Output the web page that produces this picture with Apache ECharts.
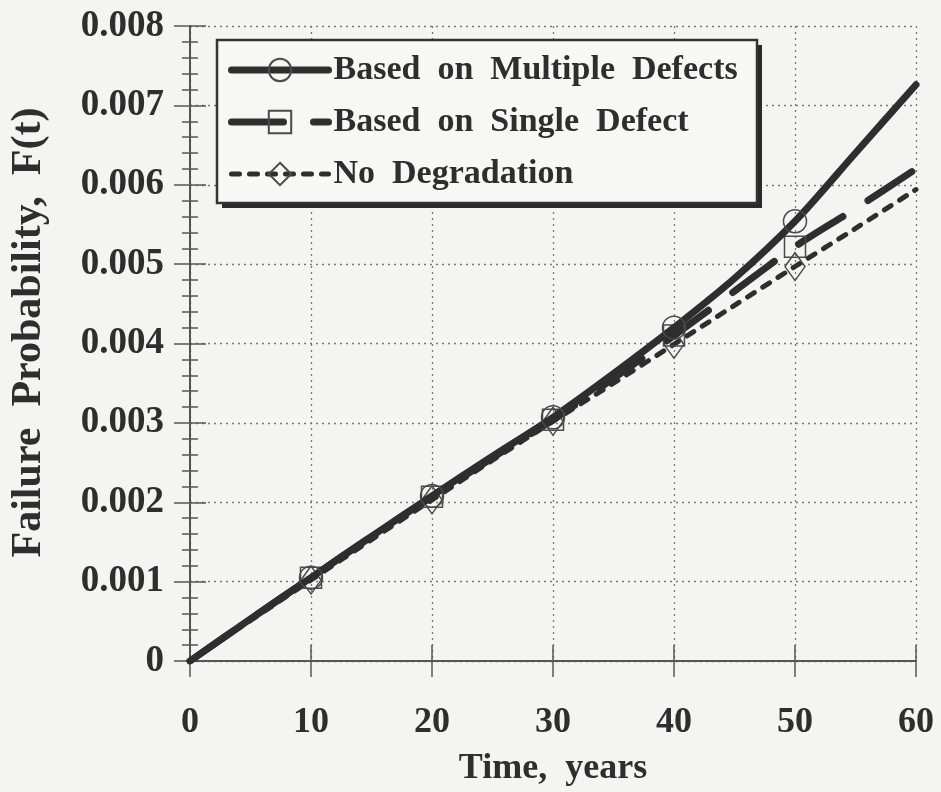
<!DOCTYPE html>
<html>
<head>
<meta charset="utf-8">
<script src="https://cdn.jsdelivr.net/npm/echarts@6/dist/echarts.min.js"></script>
<style>
  html, body { margin: 0; padding: 0; background: #f4f4f2; }
  #chart { width: 941px; height: 792px; }
</style>
</head>
<body>
<div id="chart"></div>
<script>
// Time axis (years) and failure probability curves
const years = [0, 5, 10, 15, 20, 25, 30, 35, 40, 45, 50, 55, 60];
const multipleDefects = [0, 0.00053, 0.00105, 0.00157, 0.00208, 0.00258, 0.00307, 0.00362, 0.0042, 0.00482, 0.00554, 0.0064, 0.00726];
const singleDefect    = [0, 0.00053, 0.00105, 0.00157, 0.00207, 0.00256, 0.00304, 0.00356, 0.0041, 0.00466, 0.00522, 0.0057, 0.0062];
const noDegradation   = [0, 0.00051, 0.00102, 0.00153, 0.00203, 0.00253, 0.00302, 0.0035, 0.00399, 0.00448, 0.00497, 0.00545, 0.00594];
const markerYears = [10, 20, 30, 40, 50];

const seriesNames = ['Based on Multiple Defects', 'Based on Single Defect', 'No Degradation'];
const xTicks = { min: 0, max: 60, interval: 10 };
const yTicks = { min: 0, max: 0.008, interval: 0.001 };
const xName = 'Time, years';
const yName = 'Failure Probability, F(t)';

const ink = '#2e2e2e';
const axisInk = '#555';
const font = 'Liberation Serif';
const wide = s => s.replace(/ /g, '\u2002');

const pairs = vals => years.map((y, i) => [y, vals[i]]);
const markSize = size => v => markerYears.indexOf(v[0]) >= 0 ? size : 0;

const axisLine = { show: true, lineStyle: { color: axisInk, width: 1.5 } };
const tickStyle = { color: axisInk, width: 1.5 };

function xAxisOf(position, inside, extra) {
  return Object.assign({
    type: 'value', position: position,
    min: xTicks.min, max: xTicks.max, interval: xTicks.interval,
    axisLine: axisLine,
    axisTick: { show: true, inside: inside, length: 16, lineStyle: tickStyle },
    axisLabel: { show: false },
    splitLine: { show: false }
  }, extra || {});
}
function yAxisOf(position, inside, extra) {
  return Object.assign({
    type: 'value', position: position,
    min: yTicks.min, max: yTicks.max, interval: yTicks.interval,
    axisLine: axisLine,
    axisTick: { show: true, inside: inside, length: 16, lineStyle: tickStyle },
    minorTick: { show: inside, splitNumber: 5, length: 8, lineStyle: tickStyle },
    axisLabel: { show: false },
    splitLine: { show: false }
  }, extra || {});
}

const labelText = { fontFamily: font, fontWeight: 'bold', fontSize: 37, color: ink };
const gridDots = { show: true, lineStyle: { type: [2, 4], color: '#7a7a7a', width: 1.3 } };

// legend frame with a solid drop shadow
const legendBox = { x: 217, y: 40, w: 540, h: 163, shadow: 5 };

const chart = echarts.init(document.getElementById('chart'));
chart.setOption({
  backgroundColor: '#f4f4f2',
  animation: false,
  grid: { left: 186, right: 25, top: 26, bottom: 129 },
  graphic: [
    {
      type: 'rect', z: 50, silent: true,
      shape: { x: legendBox.x + legendBox.shadow, y: legendBox.y + legendBox.shadow, width: legendBox.w, height: legendBox.h },
      style: { fill: '#2a2a2a' }
    },
    {
      type: 'rect', z: 51, silent: true,
      shape: { x: legendBox.x, y: legendBox.y, width: legendBox.w, height: legendBox.h },
      style: { fill: '#f7f7f5', stroke: '#333', lineWidth: 2.5 }
    }
  ],
  xAxis: [
    xAxisOf('bottom', true, {
      axisLabel: Object.assign({ show: true, margin: 44 }, labelText, { fontSize: 36 }),
      splitLine: gridDots,
      name: wide(xName), nameLocation: 'middle', nameGap: 90,
      nameTextStyle: Object.assign({}, labelText, { fontSize: 36 })
    }),
    xAxisOf('bottom', false),
    xAxisOf('top', true),
    xAxisOf('top', false)
  ],
  yAxis: [
    yAxisOf('left', true, {
      axisLabel: Object.assign({
        show: true, margin: 26,
        formatter: v => v === 0 ? '0' : v.toFixed(3)
      }, labelText),
      splitLine: gridDots,
      name: wide(yName), nameLocation: 'middle', nameGap: 140,
      nameTextStyle: Object.assign({}, labelText, { fontSize: 42, padding: [0, 0, 0, 22] })
    }),
    yAxisOf('left', false),
    yAxisOf('right', true),
    yAxisOf('right', false)
  ],
  legend: {
    left: legendBox.x, top: legendBox.y,
    orient: 'vertical',
    padding: [11, 20, 8, 11],
    itemWidth: 97, itemHeight: 28, itemGap: 14,
    z: 60,
    textStyle: { fontFamily: font, fontWeight: 'bold', fontSize: 34, lineHeight: 38, color: ink },
    formatter: name => wide(name),
    data: [
      { name: seriesNames[0], lineStyle: { width: 7 } },
      { name: seriesNames[1], lineStyle: { width: 7 } },
      { name: seriesNames[2], lineStyle: { width: 5 } }
    ]
  },
  series: [
    {
      name: seriesNames[0], type: 'line', smooth: 0.3,
      xAxisIndex: 0, yAxisIndex: 0,
      data: pairs(multipleDefects),
      symbol: 'circle', symbolSize: markSize(23),
      lineStyle: { color: ink, width: 7, cap: 'round' },
      itemStyle: { color: 'rgba(0,0,0,0)', borderColor: '#4a4a4a', borderWidth: 1.5 },
      z: 4
    },
    {
      name: seriesNames[1], type: 'line', smooth: 0.3,
      xAxisIndex: 0, yAxisIndex: 0,
      data: pairs(singleDefect),
      symbol: 'rect', symbolSize: markSize(21),
      lineStyle: { color: ink, width: 7, type: [52, 30], cap: 'round' },
      itemStyle: { color: 'rgba(0,0,0,0)', borderColor: '#4a4a4a', borderWidth: 1.5 },
      z: 3
    },
    {
      name: seriesNames[2], type: 'line', smooth: 0.3,
      xAxisIndex: 0, yAxisIndex: 0,
      data: pairs(noDegradation),
      symbol: 'diamond', symbolSize: v => markerYears.indexOf(v[0]) >= 0 ? [20, 28] : 0,
      lineStyle: { color: ink, width: 5, type: [8, 10], cap: 'round' },
      itemStyle: { color: 'rgba(0,0,0,0)', borderColor: '#4a4a4a', borderWidth: 1.5 },
      z: 2
    }
  ]
});
</script>
</body>
</html>
